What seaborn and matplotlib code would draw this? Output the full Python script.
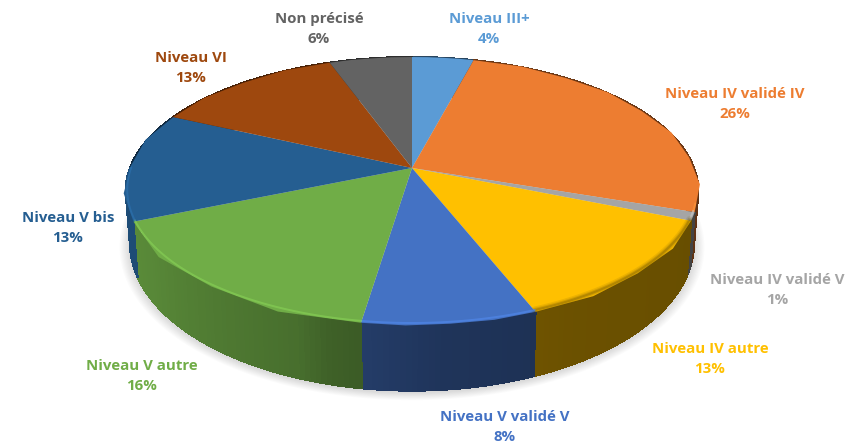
import numpy as np
import seaborn as sns
import matplotlib.pyplot as plt
from matplotlib.path import Path
from matplotlib.transforms import Transform

categories = ['Niveau III+', 'Niveau IV validé IV', 'Niveau IV validé V', 'Niveau IV autre',
              'Niveau V validé V', 'Niveau V autre', 'Niveau V bis', 'Niveau VI', 'Non précisé']
shares = [4.1, 26.1, 1.0, 12.8, 8.4, 16.3, 13.2, 12.6, 5.5]
colors = ['#5B9BD5', '#ED7D31', '#A5A5A5', '#FFC000', '#4472C4',
          '#70AD47', '#255E91', '#9E480E', '#636363']
label_pos = [(489, 29), (735, 104), (777, 290), (710, 359), (505, 427),
             (142, 376), (68, 228), (191, 68), (319, 29)]


class Tilt(Transform):
    # unit pie -> picture pixels, with perspective so the centre sits off the ellipse centre
    input_dims = output_dims = 2

    def __init__(self, cy=168.0, sx=1.0, sy=1.0):
        super().__init__()
        self.cy, self.sx, self.sy = cy, sx, sy

    def transform_non_affine(self, xy):
        xy = np.asarray(xy, dtype=float)
        w = 1 + 0.1716 * xy[:, 1]
        return np.column_stack([412 + 282 * self.sx * xy[:, 0] / w,
                                self.cy - 130 * self.sy * xy[:, 1] / w])

    def transform_path_non_affine(self, path):
        p = path.interpolated(30) if path.codes is None else Path(path.to_polygons(closed_only=True)[0])
        return Path(self.transform_non_affine(p.vertices))


def ring(theta, radius=1.0):
    t = np.radians(theta)
    return np.column_stack([radius * np.cos(t), radius * np.sin(t)])


sns.set_theme(style='white')
plt.rcParams['font.family'] = ['Open Sans', 'DejaVu Sans']
palette = sns.color_palette(colors)

fig = plt.figure(figsize=(8.49, 4.43), dpi=100)
ax = fig.add_axes([0, 0, 1, 1])
wedges, _ = ax.pie(shares, colors=palette, startangle=90, counterclock=False)
ax.set_aspect('auto')
ax.set_xlim(0, 849)
ax.set_ylim(443, 0)
ax.axis('off')

top = Tilt()
low = Tilt(cy=218, sx=0.985, sy=1.1)

# soft shadow under the disc
all_angles = np.linspace(0, 360, 361)
for k in range(10):
    r = 1.0 + 0.004 * k
    ax.fill(*Tilt(cy=220, sx=0.985, sy=1.1).transform(ring(all_angles, r)).T,
            color='#808080', alpha=0.03, lw=0, zorder=1)

# side wall, strip by strip, from the wedge angles
shade_at = [180, 215, 250, 256, 275, 300, 360]
shade_val = [0.85, 0.78, 0.64, 0.56, 0.46, 0.42, 0.4]
for w, c in zip(wedges, palette):
    a, b = sorted((w.theta1, w.theta2))
    steps = np.linspace(a, b, max(3, int(b - a) + 2))
    up, down = top.transform(ring(steps)), low.transform(ring(steps))
    for i in range(len(steps) - 1):
        mid = (steps[i] + steps[i + 1]) / 2 % 360
        f = np.interp(mid, shade_at, shade_val) if mid >= 180 else 0.45
        quad = np.vstack([up[i], up[i + 1], down[i + 1], down[i]])
        ax.fill(quad[:, 0], quad[:, 1], color=np.array(c) * f, lw=0.8,
                ec=np.array(c) * f, antialiased=False, zorder=2)

# top face
for w in wedges:
    w.set_transform(top + ax.transData)
    w.set_zorder(3)
    w.set_linewidth(0)

# bevel along the front rim
for w, c, name in zip(wedges, palette, categories):
    a, b = sorted((w.theta1, w.theta2))
    steps = np.linspace(a, b, 60)
    steps = steps[(steps % 360 > 180) & (steps % 360 < 345)]
    if len(steps) < 2:
        continue
    rim = top.transform(ring(steps, 0.995))
    if name == 'Niveau IV autre':
        for lw, alpha in [(5, 0.12), (3, 0.2), (1.5, 0.3)]:
            ax.plot(rim[:, 0], rim[:, 1] - 1, color='#6b5200', lw=lw, alpha=alpha, zorder=4)
    else:
        light = np.minimum(np.array(c) * 1.22, 1)
        ax.plot(rim[:, 0], rim[:, 1] - 1, color=light, lw=1.4, alpha=0.6, zorder=4)

# labels
for name, share, c, (x, y) in zip(categories, shares, palette, label_pos):
    ax.text(x, y, f'{name}\n{share:.0f}%', color=c, ha='center', va='center',
            fontsize=10.8, fontweight='bold', linespacing=1.55, zorder=5)

# tail of the cut off title at the very top
ax.text(577, -4, 'q', color='#7030A0', ha='center', va='baseline', fontsize=10.5,
        fontweight='bold', zorder=5)

fig.savefig('out.png', dpi=100)
